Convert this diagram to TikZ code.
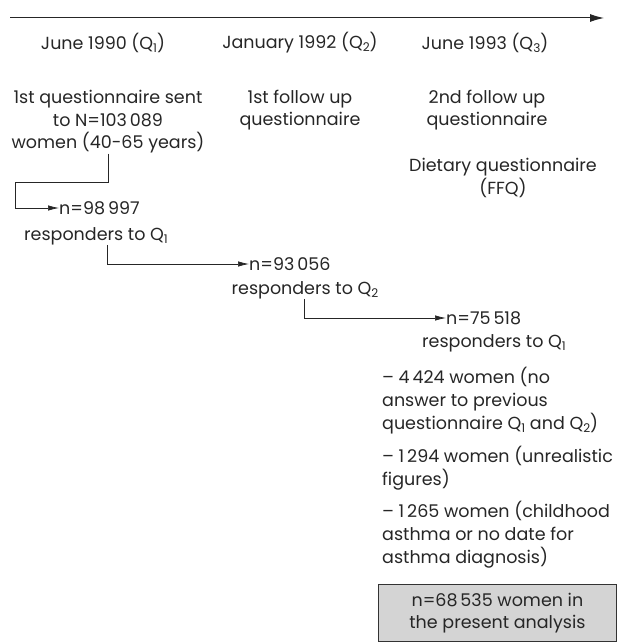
\documentclass[tikz,border=0pt]{standalone}
\usepackage{fontspec}
\setmainfont{Poppins}
\usetikzlibrary{arrows.meta}
\newcommand\qsb[1]{Q\raisebox{-0.3ex}{\fontsize{12}{12}\selectfont #1}}
\begin{document}
\begin{tikzpicture}[x=1pt,y=-1pt,
  txt/.style={font=\fontsize{17.5}{22.5}\selectfont, inner sep=0pt, align=center, text=black!85},
  ltxt/.style={font=\fontsize{17.5}{23}\selectfont, inner sep=0pt, align=left, anchor=west, text=black!85},
  conn/.style={line width=0.7pt, draw=black!85, -{Latex[length=11pt,width=5.5pt]}},
  axis/.style={line width=1pt, draw=black!85, -{Latex[length=14pt,width=8pt]}},
  finalbox/.style={draw=black!80, line width=0.8pt, fill=black!17, minimum width=238pt, minimum height=57pt, inner sep=0pt, align=center, font=\fontsize{17.5}{22.5}\selectfont, text=black!85}]
\useasboundingbox (0,0) rectangle (618,642);
\coordinate (t0) at (10,18);
\coordinate (t1) at (604,18);
\draw[axis] (t0) -- (t1);
\node[txt] (d1) at (103,43) {June 1990 (\qsb{1})};
\node[txt] (d2) at (300,43) {January 1992 (\qsb{2})};
\node[txt] (d3) at (485,43) {June 1993 (\qsb{3})};
\node[txt] (b1) at (108,122) {1st questionnaire sent\\to N=103\,089\\women (40-65 years)};
\node[txt] (b2) at (300,110) {1st follow up\\questionnaire};
\node[txt] (b3) at (487,110) {2nd follow up\\questionnaire};
\node[txt] (ffq) at (503,178) {Dietary questionnaire\\(FFQ)};
\node[txt, anchor=west] (r1) at (59,208) {n=98\,997};
\node[txt] (r1b) at (96,236) {responders to \qsb{1}};
\node[txt, anchor=west] (r2) at (249,264) {n=93\,056};
\node[txt] (r2b) at (305,290) {responders to \qsb{2}};
\node[txt, anchor=west] (r3) at (446,318) {n=75\,518};
\node[txt] (r3b) at (494,343) {responders to \qsb{1}};
\node[ltxt] (e1) at (382,401) {-- 4\,424 women (no\\answer to previous\\questionnaire \qsb{1} and \qsb{2})};
\node[ltxt] (e2) at (382,468) {-- 1\,294 women (unrealistic\\figures)};
\node[ltxt] (e3) at (382,535) {-- 1\,265 women (childhood\\asthma or no date for\\asthma diagnosis)};
\node[finalbox, anchor=north west] (fin) at (378,584) {n=68\,535 women in\\the present analysis};
\coordinate (k1) at (15,182);
\coordinate (k2) at (107,264);
\coordinate (k3) at (304,318);
\draw[conn] (b1.south) |- (k1) |- (r1.west);
\draw[conn] (k2 |- r1b.south) |- (r2.west);
\draw[conn] (k3 |- r2b.south) |- (r3.west);
\end{tikzpicture}
\end{document}
